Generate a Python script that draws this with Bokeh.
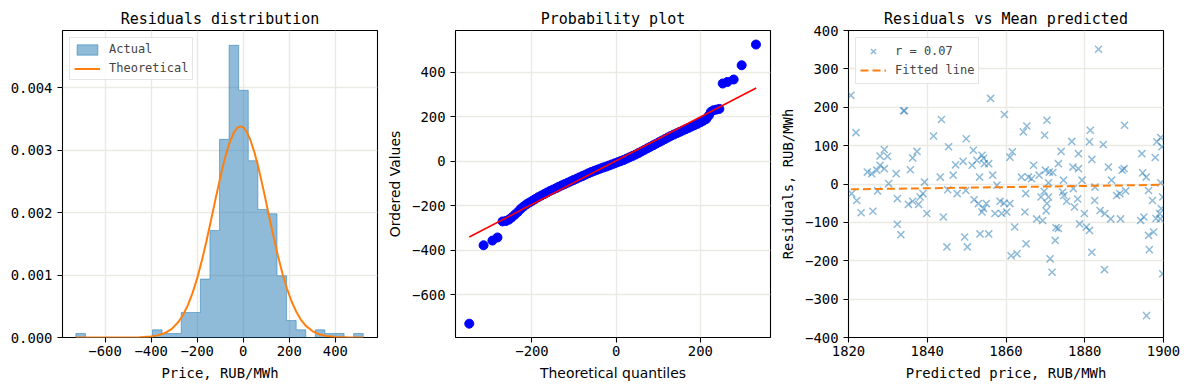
from bokeh.plotting import figure
from bokeh.models import Legend, LegendItem, CustomJSTickFormatter, FixedTicker, Range1d
from bokeh.layouts import row
from bokeh.embed import file_html
from bokeh.resources import INLINE

# ---------------- data: panel 1 (histogram of residuals) ----------------
hist_start = -727.0
hist_bin_width = 41.6
hist_density = [0.000064, 0, 0, 0, 0, 0, 0, 0, 0.000123, 0.000064,
                0.000064, 0.0004, 0.0004, 0.000935, 0.001714, 0.003172, 0.004678, 0.003957, 0.00283, 0.00205,
                0.00198, 0.000988, 0.000272, 0.000123, 0, 0.000123, 0.000064, 0.000064, 0, 0.000064]
theo_x = [-727, -650, -600, -550, -500, -450, -400, -370, -340, -310, -280, -260, -240, -220, -200,
          -180, -160, -140, -120, -100, -80, -60, -40, -25, -12, 0, 15, 30, 50, 70, 90, 110, 130,
          150, 170, 190, 210, 230, 250, 270, 300, 330, 360, 400, 450, 521]
theo_y = [0.0, 0.0, 0.0, 0.0000001, 0.0000006, 0.0000034, 0.0000152, 0.0000339, 0.000071, 0.000139,
          0.000256, 0.000372, 0.000523, 0.000715, 0.00095, 0.001227, 0.00154, 0.001878, 0.002224,
          0.00256, 0.002864, 0.003113, 0.003287, 0.003361, 0.003381, 0.003364, 0.003294, 0.003173,
          0.002945, 0.002656, 0.002327, 0.001981, 0.001639, 0.001318, 0.001029, 0.000781, 0.000576,
          0.000413, 0.000287, 0.000194, 0.000103, 0.0000507, 0.0000235, 0.0000077, 0.0000034, 0.0000001]

# ---------------- data: panel 2 (probability plot) ----------------
qq_x = [-349, -315, -294, -282, -270, -262, -255, -248, -241, -234, -227, -220,
        -213, -206, -199, -192, -185, -178, -171, -164, -157, -150, -143, -136, -129, -122, -115,
        -108, -101, -94, -87, -80, -73, -66, -59, -52, -45, -38, -31, -24, -17, -10, -3,
        4, 11, 18, 25, 32, 39, 46, 53, 60, 67, 74, 81, 88, 95, 102, 109, 116, 123, 130, 137,
        144, 151, 158, 165, 172, 179, 186, 193, 200, 207, 214,
        220, 225, 231, 238, 245, 253, 264, 279, 298, 332]
qq_y = [-729, -377, -356, -342, -270, -268, -262, -252, -240, -228, -214, -203,
        -193, -185, -177, -169, -161, -154, -147, -140, -133, -127, -121, -114, -108, -102, -96,
        -90, -84, -78, -72, -66, -60, -54, -48, -43, -38, -33, -28, -24, -19, -14, -9,
        -4, 1, 6, 12, 18, 24, 30, 37, 44, 51, 58, 65, 72, 79, 86, 93, 100, 107, 114, 120,
        126, 132, 138, 144, 150, 156, 162, 168, 175, 182, 190,
        205, 222, 229, 232, 235, 349, 356, 367, 431, 524]
qq_fit_x = [-349, 332.5]
qq_fit_y = [-340, 329]

# ---------------- data: panel 3 (residuals vs mean predicted) ----------------
pred = [1820.6, 1821.9, 1820.8, 1822.1, 1823.2, 1824.8, 1825.9, 1826.2, 1827.2, 1828.0,
        1828.0, 1829.1, 1827.4, 1829.1, 1829.9, 1830.2, 1832.1, 1832.4, 1832.4, 1833.3,
        1834.0, 1834.2, 1835.7, 1835.2, 1836.3, 1836.3, 1837.4, 1837.8, 1838.2, 1838.9,
        1839.3, 1839.9, 1841.6, 1843.6, 1843.3, 1844.1, 1845.0, 1845.4, 1845.2, 1846.6,
        1847.2, 1847.6, 1849.1, 1849.5, 1849.9, 1850.2, 1849.8, 1851.4, 1851.7, 1851.9,
        1852.6, 1853.3, 1853.4, 1853.9, 1853.9, 1854.3, 1854.5, 1855.0, 1855.6, 1855.6,
        1856.1, 1856.6, 1857.2, 1857.7, 1858.5, 1858.9, 1859.6, 1859.5, 1860.2, 1861.0,
        1861.0, 1861.6, 1861.3, 1862.2, 1862.8, 1863.9, 1864.4, 1864.8, 1865.0, 1865.3,
        1865.1, 1865.7, 1866.5, 1867.0, 1867.8, 1868.4, 1868.9, 1869.3, 1869.8, 1870.0,
        1869.7, 1870.4, 1870.2, 1870.4, 1870.8, 1871.2, 1871.7, 1871.0, 1871.9, 1872.5,
        1872.7, 1873.3, 1874.0, 1874.4, 1874.7, 1874.6, 1875.4, 1876.7, 1877.0, 1877.1,
        1877.4, 1878.2, 1878.4, 1878.4, 1878.7, 1879.3, 1879.9, 1880.4, 1881.2, 1881.4,
        1881.2, 1881.8, 1881.8, 1882.5, 1882.6, 1883.5, 1883.9, 1884.7, 1885.0, 1885.1,
        1886.0, 1886.6, 1886.8, 1888.1, 1888.9, 1889.1, 1889.5, 1890.1, 1890.4, 1890.0,
        1894.2, 1894.5, 1894.7, 1895.0, 1895.6, 1895.7, 1896.2, 1896.4, 1896.2, 1897.2,
        1897.5, 1897.9, 1898.3, 1899.0, 1899.3, 1899.6, 1899.3, 1899.8, 1899.8, 1899.2,
        1853.0, 1870.8, 1873.3, 1898.1, 1899.4, 1854.3]
resid = [231, 134, -25, -43, -75, 31, 27, -71, 36, 49,
         73, 90, -18, 40, 72, 1, 27, -38, -105, -132,
         191, 191, 37, -53, -45, 68, 85, -53, -34, -25,
         5, -77, 125, 168, 18, -86, -164, 97, -15, 23,
         50, -25, 59, -138, 118, -164, -17, 49, 88, -41,
         62, 18, -130, 75, -73, -64, 53, -51, 53, -130,
         223, 23, -77, -3, -45, -77, 181, -50, -73, -51,
         70, 84, -187, -112, -182, 18, 136, -73, -25, 151,
         -156, 18, 14, 49, -91, 23, -34, -95, 127, 36,
         -19, 166, -70, -51, 3, -195, -230, 31, 30, -147,
         -114, 53, 85, -21, -30, 10, -45, 111, 44, -12,
         -60, -39, 79, 40, -104, 10, -77, -112, -121, 140,
         110, 64, -178, -43, -8, 351, -69, 103, -223, -77,
         44, -91, 10, -30, -25, -91, 36, 153, -18, 40,
         -95, 79, 29, -86, 18, -343, -134, -171, -17, -43,
         -125, 69, 110, -77, 121, 97, 3, -234, -34, -91,
         -51, -34, -116, -90, -64, 67]
fit_x = [1820.6, 1904.0]
fit_y = [-14.0, -1.5]

MONO = "DejaVu Sans Mono"
SANS = "DejaVu Sans"
BLUE = "#1f77b4"
ORANGE = "#ff7f0e"
GRID = "#ebe9e3"


def fmt(dec):
    return CustomJSTickFormatter(
        code="return (tick < 0 ? '\\u2212' : '') + Math.abs(tick).toFixed(%d);" % dec)


def make_fig(title, xr, yr, xticks, yticks, ydec, bl, br, xlabel, ylabel, label_font):
    p = figure(frame_width=315, frame_height=307, x_range=Range1d(*xr), y_range=Range1d(*yr),
               output_backend="svg", toolbar_location=None, title=title,
               min_border_left=bl, min_border_right=br, min_border_top=30, min_border_bottom=45)
    p.title.align = "center"
    p.title.text_font = MONO
    p.title.text_font_size = "15px"
    p.title.text_font_style = "normal"
    p.title.text_color = "black"
    p.title.standoff = 6
    p.outline_line_color = "black"
    p.outline_line_width = 1.1
    p.outline_line_alpha = 1.0
    p.xaxis.ticker = FixedTicker(ticks=xticks)
    p.yaxis.ticker = FixedTicker(ticks=yticks)
    p.xaxis.formatter = fmt(0)
    p.yaxis.formatter = fmt(ydec)
    for ax in (p.xaxis[0], p.yaxis[0]):
        ax.axis_line_color = None
        ax.major_tick_in = 0
        ax.major_tick_out = 5
        ax.major_tick_line_color = "black"
        ax.major_tick_line_width = 1.1
        ax.minor_tick_line_color = None
        ax.major_label_text_font = MONO
        ax.major_label_text_font_size = "13.9px"
        ax.major_label_text_color = "black"
        ax.axis_label_text_font = label_font
        ax.axis_label_text_font_size = "13.9px"
        ax.axis_label_text_font_style = "normal"
        ax.axis_label_text_color = "black"
        ax.axis_label_standoff = 6
    p.xaxis.major_label_standoff = 3
    p.yaxis.major_label_standoff = 5
    p.xaxis.axis_label = xlabel
    if ylabel:
        p.yaxis.axis_label = ylabel
    for g in (p.xgrid[0], p.ygrid[0]):
        g.grid_line_color = GRID
        g.grid_line_width = 1.4
    return p


def style_legend(leg, gh, sp):
    leg.location = "top_left"
    leg.margin = 7
    leg.padding = 4
    leg.spacing = sp
    leg.label_text_font = MONO
    leg.label_text_font_size = "12px"
    leg.label_standoff = 9
    leg.glyph_width = 26
    leg.glyph_height = gh
    leg.label_height = 13
    leg.border_line_color = "#cccccc"
    leg.border_line_width = 1
    leg.background_fill_alpha = 0.8


# ---------------- panel 1 ----------------
p1 = make_fig("Residuals distribution", (-785, 583), (0, 0.004915),
              [-600, -400, -200, 0, 200, 400], [0, 0.001, 0.002, 0.003, 0.004], 3,
              62, 6, "Price, RUB/MWh", None, MONO)
edges = [hist_start + i * hist_bin_width for i in range(len(hist_density) + 1)]
step_x = [edges[0]]
step_y = [0]
for i, d in enumerate(hist_density):
    step_x += [edges[i], edges[i + 1]]
    step_y += [d, d]
step_x.append(edges[-1])
step_y.append(0)
r_hist = p1.patch(step_x, step_y, fill_color=BLUE, fill_alpha=0.5,
                  line_color=BLUE, line_alpha=0.5, line_width=1)
r_theo = p1.line(theo_x, theo_y, line_color=ORANGE, line_width=2)
leg1 = Legend(items=[LegendItem(label="Actual", renderers=[r_hist]),
                     LegendItem(label="Theoretical", renderers=[r_theo])])
style_legend(leg1, 13, 5)
p1.add_layout(leg1)

# ---------------- panel 2 ----------------
p2 = make_fig("Probability plot", (-381.7, 366.5), (-791, 587),
              [-200, 0, 200], [-600, -400, -200, 0, 200, 400], 0,
              72, 6, "Theoretical quantiles", "Ordered Values", SANS)
p2.scatter(qq_x, qq_y, marker="circle", size=9, fill_color="#0000ff", line_color="#0000ff")
p2.line(qq_fit_x, qq_fit_y, line_color="#ff0000", line_width=1.6)

# ---------------- panel 3 ----------------
p3 = make_fig("Residuals vs Mean predicted", (1820, 1900), (-400, 400),
              [1820, 1840, 1860, 1880, 1900], [-400, -300, -200, -100, 0, 100, 200, 300, 400], 0,
              72, 20, "Predicted price, RUB/MWh", "Residuals, RUB/MWh", MONO)
r_sc = p3.scatter(pred, resid, marker="x", size=10, line_color=BLUE, line_alpha=0.5, line_width=1.5)
r_fit = p3.line(fit_x, fit_y, line_color=ORANGE, line_width=2, line_dash="8 4")
leg3 = Legend(items=[LegendItem(label="r = 0.07", renderers=[r_sc]),
                     LegendItem(label="Fitted line", renderers=[r_fit])])
style_legend(leg3, 18, 1)
p3.add_layout(leg3)

layout = row(p1, p2, p3)
open("out.html", "w").write(file_html(layout, INLINE))
